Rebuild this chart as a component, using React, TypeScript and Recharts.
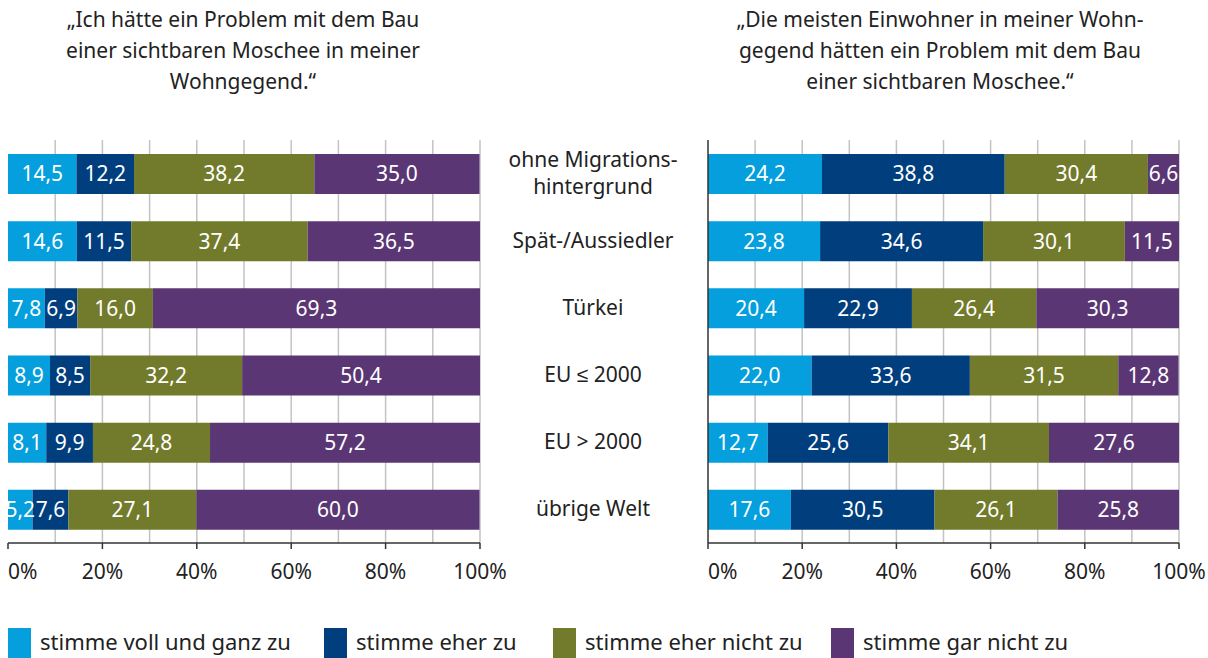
import { BarChart, Bar, XAxis, YAxis, CartesianGrid, LabelList } from 'recharts';

const categories = [
  'ohne Migrations-\nhintergrund',
  'Spät-/Aussiedler',
  'Türkei',
  'EU ≤ 2000',
  'EU > 2000',
  'übrige Welt',
];

const seriesNames = ['stimme voll und ganz zu', 'stimme eher zu', 'stimme eher nicht zu', 'stimme gar nicht zu'];
const seriesColors = ['#049fdc', '#003e7e', '#727b2b', '#5b3674'];

// left chart: "Ich hätte ein Problem ..."
const ownVollZu = [14.5, 14.6, 7.8, 8.9, 8.1, 5.2];
const ownEherZu = [12.2, 11.5, 6.9, 8.5, 9.9, 7.6];
const ownEherNicht = [38.2, 37.4, 16.0, 32.2, 24.8, 27.1];
const ownGarNicht = [35.0, 36.5, 69.3, 50.4, 57.2, 60.0];

// right chart: "Die meisten Einwohner ..."
const othersVollZu = [24.2, 23.8, 20.4, 22.0, 12.7, 17.6];
const othersEherZu = [38.8, 34.6, 22.9, 33.6, 25.6, 30.5];
const othersEherNicht = [30.4, 30.1, 26.4, 31.5, 34.1, 26.1];
const othersGarNicht = [6.6, 11.5, 30.3, 12.8, 27.6, 25.8];

const xTicks = [0, 20, 40, 60, 80, 100];
const gridValues = [10, 20, 30, 40, 50, 60, 70, 80, 90, 100];

const titleLeft = '„Ich hätte ein Problem mit dem Bau\neiner sichtbaren Moschee in meiner\nWohngegend.“';
const titleRight = '„Die meisten Einwohner in meiner Wohn-\ngegend hätten ein Problem mit dem Bau\neiner sichtbaren Moschee.“';

const FONT = '"Noto Sans", sans-serif';
const TEXT = '#222';

const buildRows = (a: number[], b: number[], c: number[], d: number[]) =>
  categories.map((cat, i) => ({ cat, s0: a[i], s1: b[i], s2: c[i], s3: d[i] }));

const leftData = buildRows(ownVollZu, ownEherZu, ownEherNicht, ownGarNicht);
const rightData = buildRows(othersVollZu, othersEherZu, othersEherNicht, othersGarNicht);

const fmt = (v: any) => Number(v).toFixed(1).replace('.', ',');

const PctTick = (props: any) => {
  const { x, y, payload } = props;
  return (
    <text
      x={x}
      y={y}
      dy={30}
      textAnchor={payload.value === 0 ? 'start' : 'middle'}
      fill={TEXT}
      fontSize={21}
      fontFamily={FONT}
    >
      {`${payload.value}%`}
    </text>
  );
};

const CatTick = (props: any) => {
  const { x, y, payload } = props;
  const lines = String(payload.value).split('\n');
  const lh = 27;
  return (
    <text x={x - 115} y={y} textAnchor="middle" fill={TEXT} fontSize={21} fontFamily={FONT}>
      {lines.map((l, i) => (
        <tspan key={i} x={x - 115} dy={i === 0 ? 7 - ((lines.length - 1) * lh) / 2 : lh}>
          {l}
        </tspan>
      ))}
    </text>
  );
};

const renderBars = () =>
  seriesNames.map((name, i) => (
    <Bar key={name} dataKey={`s${i}`} name={name} stackId="a" fill={seriesColors[i]} barSize={40} isAnimationActive={false}>
      <LabelList dataKey={`s${i}`} position="center" fill="#fff" fontSize={21} fontFamily={FONT} formatter={fmt} />
    </Bar>
  ));

const Title = ({ text, center }: { text: string; center: number }) => (
  <div
    style={{
      position: 'absolute',
      top: 4,
      left: center - 250,
      width: 500,
      textAlign: 'center',
      whiteSpace: 'pre-line',
      fontFamily: FONT,
      fontSize: 21,
      lineHeight: '31px',
      color: TEXT,
    }}
  >
    {text}
  </div>
);

const xAxisProps = {
  type: 'number' as const,
  domain: [0, 100],
  ticks: xTicks,
  height: 60,
  tickSize: 6,
  tickMargin: 0,
  axisLine: { stroke: '#333', strokeWidth: 1.5 },
  tickLine: { stroke: '#333', strokeWidth: 1.5 },
  tick: <PctTick />,
  allowDataOverflow: true,
};

export default function App() {
  return (
    <div
      style={{
        position: 'absolute',
        top: 0,
        left: 0,
        width: 1208,
        height: 658,
        overflow: 'hidden',
        background: '#fff',
      }}
    >
      <Title text={titleLeft} center={243} />
      <Title text={titleRight} center={940} />

      <div style={{ position: 'absolute', top: 140, left: 0 }}>
        <BarChart width={520} height={463} data={leftData} layout="vertical" margin={{ top: 0, right: 40, bottom: 0, left: 8 }}>
          <CartesianGrid horizontal={false} verticalValues={gridValues} stroke="#c3c3c3" strokeWidth={1.5} />
          <XAxis {...xAxisProps} />
          <YAxis type="category" dataKey="cat" width={0} tick={false} tickLine={false} axisLine={{ stroke: '#333', strokeWidth: 1.5 }} />
          {renderBars()}
        </BarChart>
      </div>

      <div style={{ position: 'absolute', top: 140, left: 500 }}>
        <BarChart width={708} height={463} data={rightData} layout="vertical" margin={{ top: 0, right: 29, bottom: 0, left: 0 }}>
          <CartesianGrid horizontal={false} verticalValues={gridValues} stroke="#c3c3c3" strokeWidth={1.5} />
          <XAxis {...xAxisProps} />
          <YAxis
            type="category"
            dataKey="cat"
            width={208}
            tickSize={0}
            tickMargin={0}
            tickLine={false}
            tick={<CatTick />}
            interval={0}
            axisLine={{ stroke: '#333', strokeWidth: 1.5 }}
          />
          {renderBars()}
        </BarChart>
      </div>

      {seriesNames.map((name, i) => (
        <div
          key={name}
          style={{
            position: 'absolute',
            top: 628,
            left: [8, 324, 553, 831][i],
            display: 'flex',
            alignItems: 'flex-start',
            fontFamily: FONT,
            fontSize: 22,
            color: TEXT,
            whiteSpace: 'nowrap',
          }}
        >
          <span style={{ display: 'inline-block', width: 23, height: 30, background: seriesColors[i], marginRight: 9 }} />
          <span style={{ lineHeight: '26px', marginTop: 0 }}>{name}</span>
        </div>
      ))}
    </div>
  );
}
